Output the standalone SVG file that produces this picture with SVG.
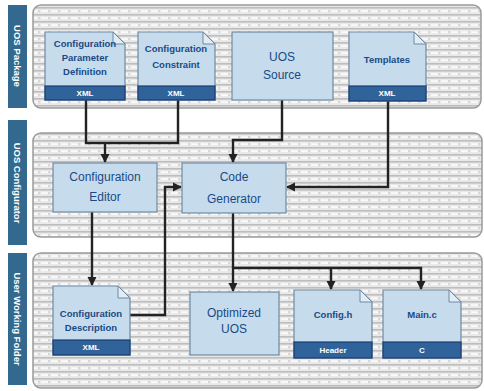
<svg xmlns="http://www.w3.org/2000/svg" width="484" height="391" viewBox="0 0 484 391">
<defs>
<pattern id="brick" width="10" height="7" patternUnits="userSpaceOnUse">
<rect width="10" height="7" fill="#e9e9e9"/>
<rect y="0" width="10" height="1.6" fill="#bdbdbd"/>
<rect x="1" y="3.4" width="7" height="1.4" fill="#ffffff"/>
<rect x="8.5" y="3" width="1" height="2.2" fill="#c8c8c8"/>
</pattern>
<marker id="arr" markerUnits="userSpaceOnUse" markerWidth="10" markerHeight="10" refX="8" refY="5" orient="auto">
<path d="M0,0.5 L9,5 L0,9.5 Z" fill="#222"/>
</marker>
<style>
.panel{fill:url(#brick);stroke:#9a9a9a;stroke-width:1.5}
.side{fill:#33698f}
.sidet{fill:#fff;font-family:"Liberation Sans",Arial,sans-serif;font-size:9.5px;font-weight:bold}
.node{fill:#c6dcec;stroke:#6f8aa3;stroke-width:1.2}
.fold{fill:#e2ecf4;stroke:#6f8aa3;stroke-width:1}
.band{fill:#2f639a;stroke:#1b3f72;stroke-width:1.2}
.t{fill:#1a4a86;font-family:"Liberation Sans",Arial,sans-serif;text-anchor:middle}
.s{font-size:9.5px;font-weight:bold}
.m{font-size:12px}
.bt{fill:#fff;font-family:"Liberation Sans",Arial,sans-serif;font-size:8px;font-weight:bold;text-anchor:middle}
.c{fill:none;stroke:#222;stroke-width:2.4}
</style>
</defs>
<rect width="484" height="391" fill="#fff"/>

<g id="lane-package">
<rect class="side" x="8" y="5" width="19" height="103"/>
<text class="sidet" transform="translate(14,56) rotate(90)" text-anchor="middle">UOS Package</text>
<rect class="panel" x="33" y="5" width="448" height="103" rx="8"/>
</g>
<g id="lane-configurator">
<rect class="side" x="8" y="120" width="19" height="125"/>
<text class="sidet" transform="translate(14,183) rotate(90)" text-anchor="middle">UOS Configurator</text>
<rect class="panel" x="33" y="133" width="449" height="104" rx="8"/>
</g>
<g id="lane-folder">
<rect class="side" x="8" y="253" width="19" height="132"/>
<text class="sidet" transform="translate(14,319) rotate(90)" text-anchor="middle">User Working Folder</text>
<rect class="panel" x="33" y="253" width="449" height="135" rx="8"/>
</g>

<g id="connectors">
<path class="c" d="M86,100 V143 H178 V100"/>
<path class="c" d="M105,143 V162" marker-end="url(#arr)"/>
<path class="c" d="M282,100 V140 H233 V162" marker-end="url(#arr)"/>
<path class="c" d="M388,101 V187 H287" marker-end="url(#arr)"/>
<path class="c" d="M92,212 V285" marker-end="url(#arr)"/>
<path class="c" d="M130,315 H165 V187 H181" marker-end="url(#arr)"/>
<path class="c" d="M233,213 V291" marker-end="url(#arr)"/>
<path class="c" d="M233,268 H421 V289" marker-end="url(#arr)"/>
<path class="c" d="M331,268 V289" marker-end="url(#arr)"/>
</g>

<g id="param-def">
<path class="node" d="M45,32 H113 L125,44 V100 H45 Z"/>
<path class="fold" d="M113,32 V44 H125 Z"/>
<text class="t s" x="85" y="47">Configuration</text>
<text class="t s" x="85" y="61">Parameter</text>
<text class="t s" x="85" y="75">Definition</text>
<rect class="band" x="45" y="86" width="80" height="14"/>
<text class="bt" x="85" y="96">XML</text>
</g>
<g id="constraint">
<path class="node" d="M138,32 H203 L215,44 V100 H138 Z"/>
<path class="fold" d="M203,32 V44 H215 Z"/>
<text class="t s" x="176" y="52">Configuration</text>
<text class="t s" x="176" y="68">Constraint</text>
<rect class="band" x="138" y="86" width="77" height="14"/>
<text class="bt" x="176" y="96">XML</text>
</g>
<g id="uos-source">
<rect class="node" x="232" y="32" width="101" height="68"/>
<text class="t m" x="282" y="61">UOS</text>
<text class="t m" x="282" y="79">Source</text>
</g>
<g id="templates">
<path class="node" d="M349,32 H414 L426,44 V101 H349 Z"/>
<path class="fold" d="M414,32 V44 H426 Z"/>
<text class="t s" x="387" y="63">Templates</text>
<rect class="band" x="349" y="86" width="77" height="15"/>
<text class="bt" x="387" y="96">XML</text>
</g>

<g id="config-editor">
<rect class="node" x="53" y="163" width="104" height="49"/>
<text class="t m" x="105" y="181">Configuration</text>
<text class="t m" x="105" y="201">Editor</text>
</g>
<g id="code-generator">
<rect class="node" x="182" y="163" width="104" height="50"/>
<text class="t m" x="234" y="181">Code</text>
<text class="t m" x="234" y="203">Generator</text>
</g>

<g id="config-description">
<path class="node" d="M53,286 H118 L130,298 V355 H53 Z"/>
<path class="fold" d="M118,286 V298 H130 Z"/>
<text class="t s" x="91" y="317">Configuration</text>
<text class="t s" x="91" y="331">Description</text>
<rect class="band" x="53" y="340" width="77" height="15"/>
<text class="bt" x="91" y="350">XML</text>
</g>
<g id="optimized-uos">
<rect class="node" x="190" y="292" width="89" height="63"/>
<text class="t m" x="234" y="317">Optimized</text>
<text class="t m" x="234" y="333">UOS</text>
</g>
<g id="config-h">
<path class="node" d="M294,290 H360 L372,302 V358 H294 Z"/>
<path class="fold" d="M360,290 V302 H372 Z"/>
<text class="t s" x="333" y="318">Config.h</text>
<rect class="band" x="294" y="342" width="78" height="16"/>
<text class="bt" x="333" y="353">Header</text>
</g>
<g id="main-c">
<path class="node" d="M383,290 H449 L461,302 V358 H383 Z"/>
<path class="fold" d="M449,290 V302 H461 Z"/>
<text class="t s" x="422" y="318">Main.c</text>
<rect class="band" x="383" y="342" width="78" height="16"/>
<text class="bt" x="422" y="353">C</text>
</g>
</svg>
